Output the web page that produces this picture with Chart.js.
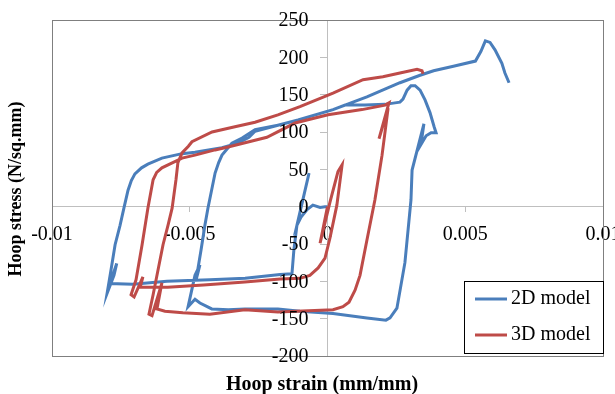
<!DOCTYPE html>
<html>
<head>
<meta charset="UTF-8">
<title>Hoop stress vs hoop strain</title>
<script src="https://cdn.jsdelivr.net/npm/chart.js@4"></script>
<style>
  html, body { margin: 0; padding: 0; background: #fff; }
  #chart { display: block; }
</style>
</head>
<body>
<canvas id="chart" width="615" height="394"></canvas>
<script>
// values (strain in mm/mm, stress in N/sq.mm)
const seriesNames = ['2D model', '3D model'];

const strain2D = [0, -0.00009, -0.00027, -0.00053, -0.00074, -0.00096, -0.00111, -0.00067, -0.00111, -0.00122,
  -0.00129, -0.00172, -0.00299, -0.00427, -0.00583, -0.00706, -0.0079, -0.00765, -0.00775, -0.008,
  -0.00786, -0.00771, -0.00753, -0.00739, -0.00724, -0.00712, -0.00699, -0.00675, -0.00652, -0.00601,
  -0.00528, -0.00481, -0.00383, -0.00325, -0.00285, -0.00263, -0.0018, -0.00107, 0.0002, 0.00064,
  0.00136, 0.00209, 0.00245, 0.00263, 0.00274, 0.00289, 0.00303, 0.00318, 0.00336, 0.00354,
  0.00372, 0.00387, 0.00394, 0.00376, 0.00358, 0.00339, 0.0035, 0.00307, 0.00303, 0.00281,
  0.00252, 0.00227, 0.00212, 0.00143, 0.0002, -0.001, -0.0018, -0.003, -0.0036, -0.0042,
  -0.00463, -0.00481, -0.00506, -0.00481, -0.00463, -0.00477, -0.00459, -0.00445, -0.00434, -0.00408,
  -0.00395, -0.00383, -0.00347, -0.0031, -0.00263, -0.0018, -0.00107, 0.0002, 0.00143, 0.00263,
  0.00336, 0.00385, 0.00457, 0.00537, 0.00557, 0.00573, 0.0059, 0.00608, 0.00633, 0.00644,
  0.00659];
const stress2D = [0, 0, -1, 2, -4, -14, -25, 45, -25, -58,
  -90, -91, -96, -98, -100, -104, -103, -76, -92, -116,
  -85, -51, -25, -2, 22, 35, 44, 52, 57, 65,
  71, 73, 79, 85, 93, 101, 109, 116, 130, 136,
  136, 137, 139, 140, 144, 156, 162, 162, 156, 143,
  126, 107, 99, 99, 95, 83, 111, 49, 9, -75,
  -136, -149, -152, -149, -143, -140, -137, -137, -138, -137,
  -129, -124, -134, -92, -78, -98, -58, -25, -2, 45,
  59, 69, 85, 92, 103, 109, 116, 130, 147, 166,
  176, 182, 188, 195, 208, 222, 220, 210, 192, 179,
  166];

const strain3D = [0, -0.00027, 0.00009, 0.00038, 0.00053, 0.00034, 0.00009, -0.00009, -0.00034, -0.00064,
  -0.001, -0.00172, -0.003, -0.0045, -0.0058, -0.0068, -0.0067, -0.00702, -0.00713, -0.00695,
  -0.00673, -0.00652, -0.00633, -0.0062, -0.00601, -0.00528, -0.00481, -0.00408, -0.00361, -0.00263,
  -0.0022, -0.00118, 0.00002, 0.00125, 0.00209, 0.00223, 0.00187, 0.0022, 0.00198, 0.00172,
  0.00143, 0.00118, 0.001, 0.00078, 0.00056, 0.0002, -0.0018, -0.003, -0.00427, -0.00525,
  -0.0059, -0.00619, -0.00601, -0.00637, -0.00648, -0.00633, -0.00597, -0.00579, -0.00564, -0.0055,
  -0.00543, -0.00528, -0.00505, -0.00492, -0.00419, -0.00336, -0.00263, -0.0018, -0.001, 0.0002,
  0.00129, 0.00201, 0.00263, 0.00325, 0.00343, 0.00347];
const stress3D = [0, -49, 6, 47, 56, 2, -42, -69, -82, -92,
  -96, -97, -101, -105, -108, -108, -94, -121, -118, -98,
  -51, -2, 36, 46, 52, 65, 69, 76, 80, 89,
  93, 112, 123, 130, 136, 139, 91, 132, 69, 9,
  -45, -92, -112, -128, -134, -138, -141, -138, -144, -142,
  -140, -137, -102, -146, -144, -118, -51, -25, -2, 36,
  59, 72, 81, 87, 100, 107, 113, 123, 134, 152,
  170, 174, 179, 184, 182, 178];

const xTicks = [-0.01, -0.005, 0, 0.005, 0.01];
const yTicks = [-200, -150, -100, -50, 0, 50, 100, 150, 200, 250];

const xTitle = 'Hoop strain (mm/mm)';
const yTitle = 'Hoop stress (N/sq.mm)';

const blue = '#4A7EBB';
const red = '#BE4B48';
const serif = "'Liberation Serif', 'Times New Roman', serif";

function toPoints(xs, ys) {
  return xs.map((x, i) => ({ x: x, y: ys[i] }));
}

Chart.defaults.font.family = serif;
Chart.defaults.font.size = 20;
Chart.defaults.color = '#000';

// frame, y tick labels, axis titles and legend box
const extras = {
  id: 'extras',
  afterDraw(chart) {
    const ctx = chart.ctx;
    const a = chart.chartArea;
    const sx = chart.scales.x, sy = chart.scales.y;
    ctx.save();
    ctx.strokeStyle = '#7f7f7f';
    ctx.lineWidth = 1;
    ctx.strokeRect(Math.round(a.left) + 0.5, Math.round(a.top) + 0.5,
      Math.round(a.right - a.left), Math.round(a.bottom - a.top));

    // y labels sit left of the y axis (which crosses at strain 0)
    ctx.fillStyle = '#000';
    ctx.font = '20px ' + serif;
    ctx.textAlign = 'right';
    ctx.textBaseline = 'middle';
    const ax = sx.getPixelForValue(0);
    yTicks.forEach(v => {
      ctx.fillText(String(v), ax - 19, sy.getPixelForValue(v) + 1);
    });

    ctx.textAlign = 'center';
    ctx.font = 'bold 20px ' + serif;
    ctx.fillText(xTitle, 322, 385);
    ctx.translate(16, 189);
    ctx.rotate(-Math.PI / 2);
    ctx.font = 'bold 18px ' + serif;
    ctx.fillText(yTitle, 0, 0);
    ctx.restore();

    // legend
    ctx.save();
    const lx = 464, ly = 281, lw = 139, lh = 72;
    ctx.fillStyle = '#fff';
    ctx.fillRect(lx, ly, lw, lh);
    ctx.strokeStyle = '#000';
    ctx.lineWidth = 1;
    ctx.strokeRect(lx + 0.5, ly + 0.5, lw, lh);
    ctx.font = '20px ' + serif;
    ctx.textAlign = 'left';
    ctx.textBaseline = 'middle';
    chart.data.datasets.forEach((ds, i) => {
      const yy = ly + 18 + i * 36;
      ctx.strokeStyle = ds.borderColor;
      ctx.lineWidth = 3;
      ctx.beginPath();
      ctx.moveTo(lx + 11, yy);
      ctx.lineTo(lx + 43, yy);
      ctx.stroke();
      ctx.fillStyle = '#000';
      ctx.fillText(ds.label, lx + 47, yy);
    });
    ctx.restore();
  }
};

const ctx = document.getElementById('chart').getContext('2d');
const chart = new Chart(ctx, {
  type: 'scatter',
  data: {
    datasets: [{
      label: seriesNames[0],
      data: toPoints(strain2D, stress2D),
      borderColor: blue,
      backgroundColor: blue,
      borderWidth: 3,
      showLine: true,
      pointRadius: 0,
      tension: 0,
      order: 1
    }, {
      label: seriesNames[1],
      data: toPoints(strain3D, stress3D),
      borderColor: red,
      backgroundColor: red,
      borderWidth: 3,
      showLine: true,
      pointRadius: 0,
      tension: 0,
      order: 0
    }]
  },
  options: {
    responsive: false,
    animation: false,
    layout: { padding: { left: 52, top: 20, right: 12, bottom: 38 } },
    plugins: {
      legend: { display: false },
      tooltip: { enabled: false }
    },
    scales: {
      x: {
        type: 'linear',
        min: xTicks[0],
        max: xTicks[xTicks.length - 1],
        position: { y: 0 },
        afterBuildTicks(s) { s.ticks = xTicks.map(v => ({ value: v })); },
        afterFit(s) { s.paddingLeft = 0; s.paddingRight = 0; },
        ticks: {
          autoSkip: false,
          maxRotation: 0,
          padding: 11,
          callback: v => String(Number(v.toFixed(4)))
        },
        grid: { drawOnChartArea: false, tickLength: 5, color: '#bfbfbf' },
        border: { color: '#bfbfbf', width: 1 }
      },
      y: {
        type: 'linear',
        min: yTicks[0],
        max: yTicks[yTicks.length - 1],
        position: { x: 0 },
        afterBuildTicks(s) { s.ticks = yTicks.map(v => ({ value: v })); },
        afterFit(s) { s.paddingTop = 0; s.paddingBottom = 0; },
        ticks: { display: false },
        grid: { drawOnChartArea: false, tickLength: 7, color: '#bfbfbf' },
        border: { color: '#bfbfbf', width: 1 }
      }
    }
  },
  plugins: [extras]
});
</script>
</body>
</html>
